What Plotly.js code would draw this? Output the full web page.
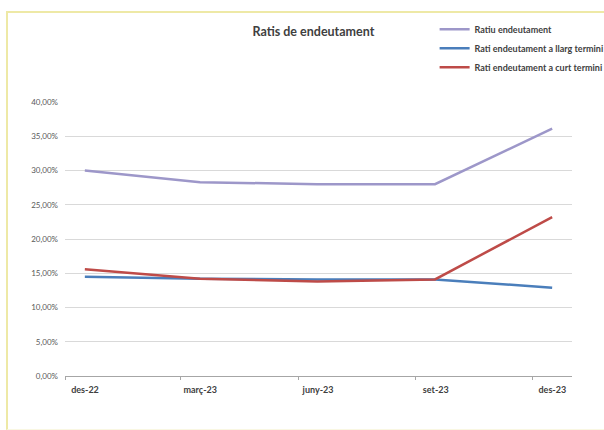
<!DOCTYPE html>
<html>
<head>
<meta charset="utf-8">
<script src="https://cdn.plot.ly/plotly-3.0.1.min.js"></script>
<style>
  html, body { margin: 0; padding: 0; background: #ffffff; }
  #wrap { position: relative; width: 604px; height: 430px; overflow: hidden; }
  #chart { position: absolute; left: 0; top: 0; width: 604px; height: 430px; }
  #frame { position: absolute; left: 6px; top: 11px; width: 620px; height: 416px;
           border-left: 2px solid #eee9a6; border-top: 2px solid #eee9a6; border-bottom: 1px solid #f9f7e2;
           pointer-events: none; }
</style>
</head>
<body>
<div id="wrap">
  <div id="chart"></div>
  <div id="frame"></div>
</div>
<script>
// Months of the observations (first day of the month)
const months = ['2022-12-01', '2023-03-01', '2023-06-01', '2023-09-01', '2023-12-01'];
const monthLabels = ['des-22', 'març-23', 'juny-23', 'set-23', 'des-23'];

const seriesNames = ['Ratiu endeutament', 'Rati endeutament a llarg termini', 'Rati endeutament a curt termini'];
const ratiuEndeutament = [0.300, 0.283, 0.280, 0.280, 0.361];
const ratiLlargTermini = [0.145, 0.142, 0.141, 0.141, 0.129];
const ratiCurtTermini  = [0.156, 0.142, 0.138, 0.141, 0.232];

const seriesColors = ['#9d97c9', '#4a7ebb', '#be4b48'];

const allSeries = [ratiuEndeutament, ratiLlargTermini, ratiCurtTermini];
const traces = allSeries.map((vals, i) => ({
  type: 'scatter',
  mode: 'lines',
  name: seriesNames[i],
  x: months,
  y: vals,
  xperiod: 'M1',
  xperiodalignment: 'middle',
  line: { color: seriesColors[i], width: 2.5 },
  hoverinfo: 'x+y+name'
}));

const layout = {
  width: 604,
  height: 430,
  paper_bgcolor: '#ffffff',
  plot_bgcolor: '#ffffff',
  separators: ',.',
  font: { family: 'Lato, "Open Sans", sans-serif', color: '#404040' },
  margin: { l: 65, r: 32, t: 102, b: 54, autoexpand: false },
  title: {
    text: '<b>Ratis de endeutament</b>',
    font: { size: 12.5, color: '#404040', family: 'Lato, "Open Sans", sans-serif' },
    x: 0.49, xanchor: 'center', xref: 'paper',
    y: 0.926, yanchor: 'middle', yref: 'container'
  },
  showlegend: true,
  legend: {
    x: 0.729, xanchor: 'left',
    y: 1.318, yanchor: 'top',
    bgcolor: 'rgba(0,0,0,0)',
    font: { size: 9, color: '#404040', family: 'Lato, "Open Sans", sans-serif', weight: 'bold' },
    itemwidth: 30,
    tracegroupgap: 0
  },
  xaxis: {
    type: 'date',
    range: ['2022-12-01', '2024-01-01'],
    tickmode: 'array',
    tickvals: months,
    ticktext: monthLabels,
    ticks: 'outside',
    ticklen: 3,
    tickcolor: '#a6a6a6',
    ticklabelshift: 20,
    ticklabelstandoff: 2,
    tickfont: { size: 9, color: '#404040', weight: 'bold' },
    showgrid: false,
    showline: true,
    linecolor: '#a6a6a6',
    linewidth: 1,
    zeroline: false,
    fixedrange: true
  },
  yaxis: {
    range: [0, 0.40],
    dtick: 0.05,
    tick0: 0,
    tickformat: '.2%',
    tickfont: { size: 8, color: '#595959' },
    ticks: '',
    ticklabelstandoff: 6,
    showgrid: true,
    gridcolor: '#d9d9d9',
    gridwidth: 1,
    showline: false,
    zeroline: false,
    fixedrange: true
  }
};

Plotly.newPlot('chart', traces, layout, { displayModeBar: false, staticPlot: false });
</script>
</body>
</html>
